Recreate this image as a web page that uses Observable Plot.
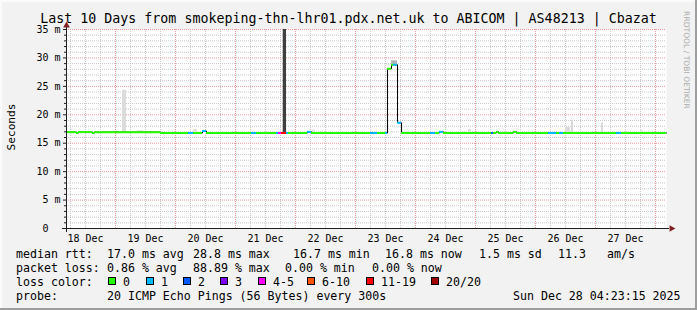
<!DOCTYPE html>
<html><head><meta charset="utf-8">
<script src="https://cdn.jsdelivr.net/npm/d3@7"></script>
<script src="https://cdn.jsdelivr.net/npm/@observablehq/plot@0.6"></script>
<style>
html,body{margin:0;padding:0;background:#f2f2f2;}
#wrap{position:relative;width:697px;height:310px;background:#f2f2f2;overflow:hidden;font-family:"DejaVu Sans Mono",monospace;color:#000;}
#chart{position:absolute;left:0;top:0;}
.bd{position:absolute;}
.t{position:absolute;white-space:pre;font-size:11.6px;line-height:14px;}
.sq{position:absolute;width:8px;height:8px;box-sizing:border-box;border:1px solid #000;}
#title{position:absolute;left:0;top:11px;width:697px;text-align:center;font-size:13.3px;line-height:16px;white-space:pre;}
#ylab{position:absolute;left:10.5px;top:126.5px;transform:translate(-50%,-50%) rotate(-90deg);font-size:11.2px;white-space:pre;}
#wm{position:absolute;left:686px;top:60px;transform:translate(-50%,-50%) rotate(90deg);font-family:"DejaVu Sans",sans-serif;font-size:7.6px;color:#ababab;white-space:pre;}
</style></head>
<body><div id="wrap"></div>
<script>
// ---------- data ----------
const titleText = "Last 10 Days from smokeping-thn-lhr01.pdx.net.uk to ABICOM | AS48213 | Cbazat";
const yTitle = "Seconds";
const watermark = "RRDTOOL / TOBI OETIKER";
const startTime = "2025-12-18T04:23:15Z";
const endTime = "2025-12-28T04:23:15Z";

const dayNoon = ["2025-12-18T12:00Z","2025-12-19T12:00Z","2025-12-20T12:00Z","2025-12-21T12:00Z","2025-12-22T12:00Z",
                 "2025-12-23T12:00Z","2025-12-24T12:00Z","2025-12-25T12:00Z","2025-12-26T12:00Z","2025-12-27T12:00Z"];
const dayLabels = ["18 Dec","19 Dec","20 Dec","21 Dec","22 Dec","23 Dec","24 Dec","25 Dec","26 Dec","27 Dec"];
const yTicks = [0,5,10,15,20,25,30,35];
const yLabels = ["0\u00a0\u00a0","5 m","10 m","15 m","20 m","25 m","30 m","35 m"];

const lossLabels = ["0","1","2","3","4-5","6-10","11-19","20/20"];
const lossColors = ["#26ff00","#00b8ff","#0059ff","#7e00ff","#ff00ff","#ff5500","#ff0000","#a10000"];

// median rtt (ms), step segments: start time, value, loss class index
const segStart = [
 "2025-12-18T04:23Z","2025-12-18T08:24Z","2025-12-18T09:12Z","2025-12-18T14:48Z","2025-12-18T15:36Z",
 "2025-12-19T18:00Z","2025-12-20T05:12Z","2025-12-20T07:12Z","2025-12-20T10:48Z","2025-12-20T12:24Z",
 "2025-12-21T06:24Z","2025-12-21T08:24Z","2025-12-21T16:24Z","2025-12-21T17:12Z","2025-12-21T18:24Z",
 "2025-12-21T20:24Z","2025-12-21T21:12Z","2025-12-22T04:48Z","2025-12-22T06:24Z","2025-12-23T06:00Z",
 "2025-12-23T08:48Z","2025-12-23T12:00Z","2025-12-23T12:48Z","2025-12-23T14:24Z","2025-12-23T15:12Z",
 "2025-12-23T16:48Z","2025-12-23T18:24Z","2025-12-24T06:00Z","2025-12-24T08:00Z","2025-12-24T09:36Z",
 "2025-12-24T11:12Z","2025-12-25T06:24Z","2025-12-25T07:12Z","2025-12-25T08:24Z","2025-12-25T09:12Z",
 "2025-12-25T15:12Z","2025-12-25T16:24Z","2025-12-26T05:12Z","2025-12-26T08:24Z","2025-12-26T09:36Z",
 "2025-12-26T11:12Z","2025-12-27T08:24Z","2025-12-27T10:24Z"];
const segValue = [
 16.95,16.8,16.95,16.8,16.95,
 16.8,16.8,16.8,17.15,16.8,
 16.8,16.8,16.8,16.8,16.8,
 16.8,16.8,17.0,16.8,16.8,
 16.8,16.8,28.1,28.8,28.8,
 18.6,16.8,16.8,16.8,17.0,
 16.8,16.8,16.8,17.0,16.8,
 17.0,16.8,16.8,16.8,16.8,
 16.8,16.8,16.8];
const segLoss = [
 0,0,0,0,0,
 0,1,0,1,0,
 1,0,1,4,6,
 1,0,1,0,1,
 0,1,0,0,1,
 1,0,1,0,1,
 0,2,0,0,0,
 0,0,1,0,1,
 0,1,0];

// smoke (ping spread) bars
const smokeStart = ["2025-12-19T02:48Z","2025-12-19T08:48Z","2025-12-20T07:12Z","2025-12-21T19:05Z","2025-12-22T06:48Z",
                    "2025-12-23T14:24Z","2025-12-24T21:12Z","2025-12-26T12:00Z","2025-12-26T14:24Z","2025-12-27T02:24Z","2025-12-27T18:00Z"];
const smokeEnd   = ["2025-12-19T04:24Z","2025-12-19T11:12Z","2025-12-20T08:48Z","2025-12-21T20:24Z","2025-12-22T08:00Z",
                    "2025-12-23T16:48Z","2025-12-24T22:24Z","2025-12-26T14:00Z","2025-12-26T15:12Z","2025-12-27T03:12Z","2025-12-27T18:48Z"];
const smokeLow   = [16.9,16.9,16.9,16.9,16.9,28.8,16.9,16.9,16.9,16.9,16.9];
const smokeHigh  = [24.3,17.2,17.4,35,17.3,29.5,17.4,17.8,19.0,18.6,17.3];
const smokeShade = ["#dcdcdc","#e0e0e0","#e0e0e0","#404040","#e0e0e0","#b4b4b4","#e0e0e0","#dcdcdc","#d8d8d8","#dcdcdc","#e0e0e0"];

const rttLabel = "median rtt:";
const rttStats = ["17.0 ms avg","28.8 ms max","16.7 ms min","16.8 ms now","1.5 ms sd","11.3","am/s"];
const lossLabel = "packet loss:";
const lossStats = ["0.86 % avg","88.89 % max","0.00 % min","0.00 % now"];
const colorLabel = "loss color:";
const probeLabel = "probe:";
const probeText = "20 ICMP Echo Pings (56 Bytes) every 300s";
const stampText = "Sun Dec 28 04:23:15 2025";

// ---------- build ----------
const T0 = new Date(startTime), T1 = new Date(endTime);
const segs = segStart.map((s, i) => ({
  start: new Date(s),
  end: i + 1 < segStart.length ? new Date(segStart[i + 1]) : T1,
  value: segValue[i],
  color: lossColors[segLoss[i]]
}));
const stepPts = segs.map(d => ({t: d.start, v: d.value})).concat([{t: T1, v: segs[segs.length - 1].value}]);
const smoke = smokeStart.map((s, i) => ({x1: new Date(s), x2: new Date(smokeEnd[i]), y1: smokeLow[i], y2: smokeHigh[i], fill: smokeShade[i]}));

const minorX = d3.utcHour.every(6).range(T0, T1).filter(d => d.getUTCHours() !== 0);
const majorX = d3.utcDay.range(T0, T1);
const minorY = d3.range(1, 35).filter(v => v % 5 !== 0);
const majorY = yTicks.filter(v => v > 0);
const noonDates = dayNoon.map(s => new Date(s));

const chart = Plot.plot({
  width: 697, height: 248,
  marginLeft: 66, marginRight: 31, marginTop: 29, marginBottom: 20,
  x: {type: "utc", domain: [T0, T1]},
  y: {domain: [0, 35]},
  color: {type: "identity"},
  style: {fontFamily: "DejaVu Sans Mono, monospace", fontSize: "10px", background: "transparent", overflow: "visible", color: "#000"},
  marks: [
    Plot.frame({fill: "#ffffff", stroke: "none"}),
    Plot.gridY(minorY, {stroke: "#c8c8c8", strokeOpacity: 1, strokeDasharray: "1,1"}),
    Plot.gridX(minorX, {stroke: "#c8c8c8", strokeOpacity: 1, strokeDasharray: "1,1"}),
    Plot.gridY(majorY, {stroke: "#eb9595", strokeOpacity: 1, strokeDasharray: "1,1"}),
    Plot.gridX(majorX, {stroke: "#eb9595", strokeOpacity: 1, strokeDasharray: "1,1"}),
    Plot.rect(smoke, {x1: "x1", x2: "x2", y1: "y1", y2: "y2", fill: "fill", clip: true}),
    Plot.line(stepPts, {x: "t", y: "v", curve: "step-after", stroke: "#000", strokeWidth: 1}),
    Plot.ruleY(segs, {y: "value", x1: "start", x2: "end", stroke: "color", strokeWidth: 2}),
    Plot.axisY(minorY, {tickSize: 2, tickFormat: () => "", stroke: "#1f1f1f"}),
    Plot.axisY(yTicks, {tickSize: 3, tickPadding: 3, tickFormat: (d, i) => yLabels[i], label: null, stroke: "#1f1f1f", fill: "#000"}),
    Plot.axisX(noonDates, {tickSize: 0, tickPadding: 6, tickFormat: (d, i) => dayLabels[i], label: null, fill: "#000"}),
    Plot.ruleY([0], {stroke: "#1f1f1f", insetLeft: -4, insetRight: -3}),
    Plot.ruleX([T0], {stroke: "#1f1f1f", insetTop: -5, insetBottom: -4}),
    Plot.dot([T1], {x: d => d, y: () => 0, symbol: "triangle", r: 2.5, fill: "#801f1f", stroke: "none", rotate: 90, dx: 5}),
    Plot.dot([T0], {x: d => d, y: () => 35, symbol: "triangle", r: 2.5, fill: "#801f1f", stroke: "none", dy: -4})
  ]
});
chart.id = "chart";

const wrap = document.getElementById("wrap");
function add(tag, cls, text, css) {
  const el = document.createElement(tag);
  if (cls) el.className = cls;
  if (text != null) el.textContent = text;
  Object.assign(el.style, css || {});
  wrap.appendChild(el);
  return el;
}
// borders (3D frame)
add("div", "bd", null, {left: "0px", top: "0px", width: "697px", height: "2px", background: "#fbfbfb"});
add("div", "bd", null, {left: "0px", top: "0px", width: "2px", height: "310px", background: "#fbfbfb"});
wrap.appendChild(chart);
add("div", "bd", null, {left: "0px", top: "308px", width: "697px", height: "2px", background: "#9e9e9e"});
add("div", "bd", null, {left: "695px", top: "0px", width: "2px", height: "310px", background: "#9e9e9e"});

const title = add("div", null, titleText); title.id = "title";
const yl = add("div", null, yTitle); yl.id = "ylab";
const wm = add("div", null, watermark); wm.id = "wm";

// legend
const rowTop = [247, 261, 275, 289];
const rttX = [107, 193, 293, 385, 479, 558, 607];
add("div", "t", rttLabel, {left: "16px", top: rowTop[0] + "px"});
rttStats.forEach((s, i) => add("div", "t", s, {left: rttX[i] + "px", top: rowTop[0] + "px"}));
const lossX = [107, 193, 285, 372];
add("div", "t", lossLabel, {left: "16px", top: rowTop[1] + "px"});
lossStats.forEach((s, i) => add("div", "t", s, {left: lossX[i] + "px", top: rowTop[1] + "px"}));
const sqX = [108, 146, 183, 220, 258, 307, 366, 431];
add("div", "t", colorLabel, {left: "16px", top: rowTop[2] + "px"});
lossLabels.forEach((s, i) => {
  add("div", "sq", null, {left: sqX[i] + "px", top: "277px", background: lossColors[i]});
  add("div", "t", s, {left: (sqX[i] + 15) + "px", top: rowTop[2] + "px"});
});
add("div", "t", probeLabel, {left: "16px", top: rowTop[3] + "px"});
add("div", "t", probeText, {left: "107px", top: rowTop[3] + "px"});
add("div", "t", stampText, {left: "513px", top: rowTop[3] + "px"});
</script>
</body></html>
